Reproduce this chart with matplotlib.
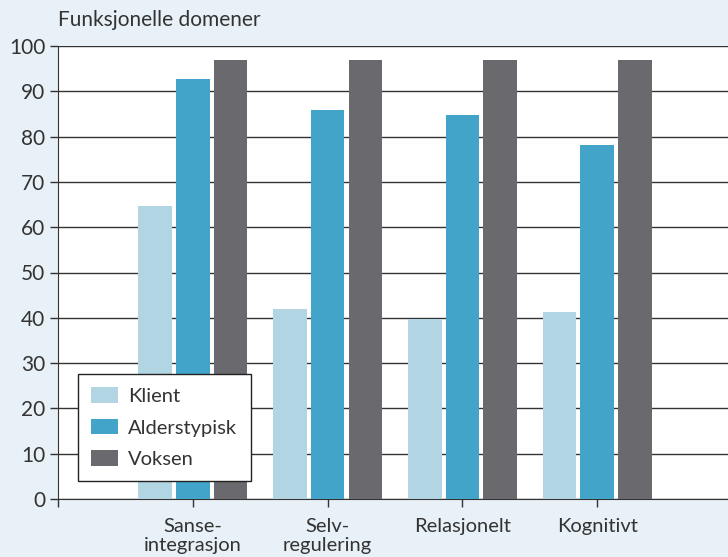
import numpy as np
import matplotlib
matplotlib.use('Agg')
import matplotlib.pyplot as plt

# Data
categories = ['Sanse-\nintegrasjon', 'Selv-\nregulering', 'Relasjonelt', 'Kognitivt']
klient = [64.7, 41.9, 39.7, 41.3]
alderstypisk = [92.7, 85.9, 84.8, 78.1]
voksen = [96.9, 96.9, 96.9, 96.9]
series_names = ['Klient', 'Alderstypisk', 'Voksen']
colors = ['#b2d5e4', '#41a4c8', '#6a6a6e']

plt.rcParams['font.family'] = ['Lato', 'DejaVu Sans']
text_col = '#333333'
bg = '#e8f1f7'

fig = plt.figure(figsize=(7.28, 5.57), dpi=100, facecolor=bg)
ax = fig.add_axes([58/728, 58/557, 1 - 58/728, (499-46)/557])
ax.set_facecolor('white')

x = np.arange(len(categories))
w = 0.25
step = 0.28
for i, (vals, name, c) in enumerate(zip([klient, alderstypisk, voksen], series_names, colors)):
    ax.bar(x + (i - 1) * step, vals, width=w, color=c, label=name, zorder=3)

ax.set_ylim(0, 100)
ax.set_xlim(-1, 3.97)
ax.set_yticks(range(0, 101, 10))
ax.yaxis.grid(True, color='#333333', lw=1.0, zorder=1)
ax.set_xticks(np.concatenate([[-1], x]))
ax.set_xticklabels([''] + categories, fontsize=14.5, color=text_col, linespacing=1.1)
ax.tick_params(axis='y', labelsize=15, colors=text_col, length=6, width=1, pad=3)
ax.tick_params(axis='x', colors=text_col, length=6, width=1, pad=8)
for s in ['top', 'right']:
    ax.spines[s].set_visible(False)
ax.spines['left'].set_color('#333333')
ax.spines['bottom'].set_color('#333333')
ax.spines['left'].set_zorder(4)

fig.text(58/728, 1 - 20/557, 'Funksjonelle domener', fontsize=15, color=text_col,
         va='center', ha='left')

leg = ax.legend(loc='lower left', bbox_to_anchor=((78-58)/670, (499-481)/453),
                fontsize=14.5, frameon=True, fancybox=False, edgecolor='#222222',
                framealpha=1.0, handlelength=1.35, handleheight=0.8, labelspacing=0.68,
                borderpad=0.65, handletextpad=0.5, borderaxespad=0)
leg.get_frame().set_linewidth(1.0)
for t in leg.get_texts():
    t.set_color(text_col)
leg.set_zorder(5)

fig.savefig('out.png', dpi=100, facecolor=bg)
